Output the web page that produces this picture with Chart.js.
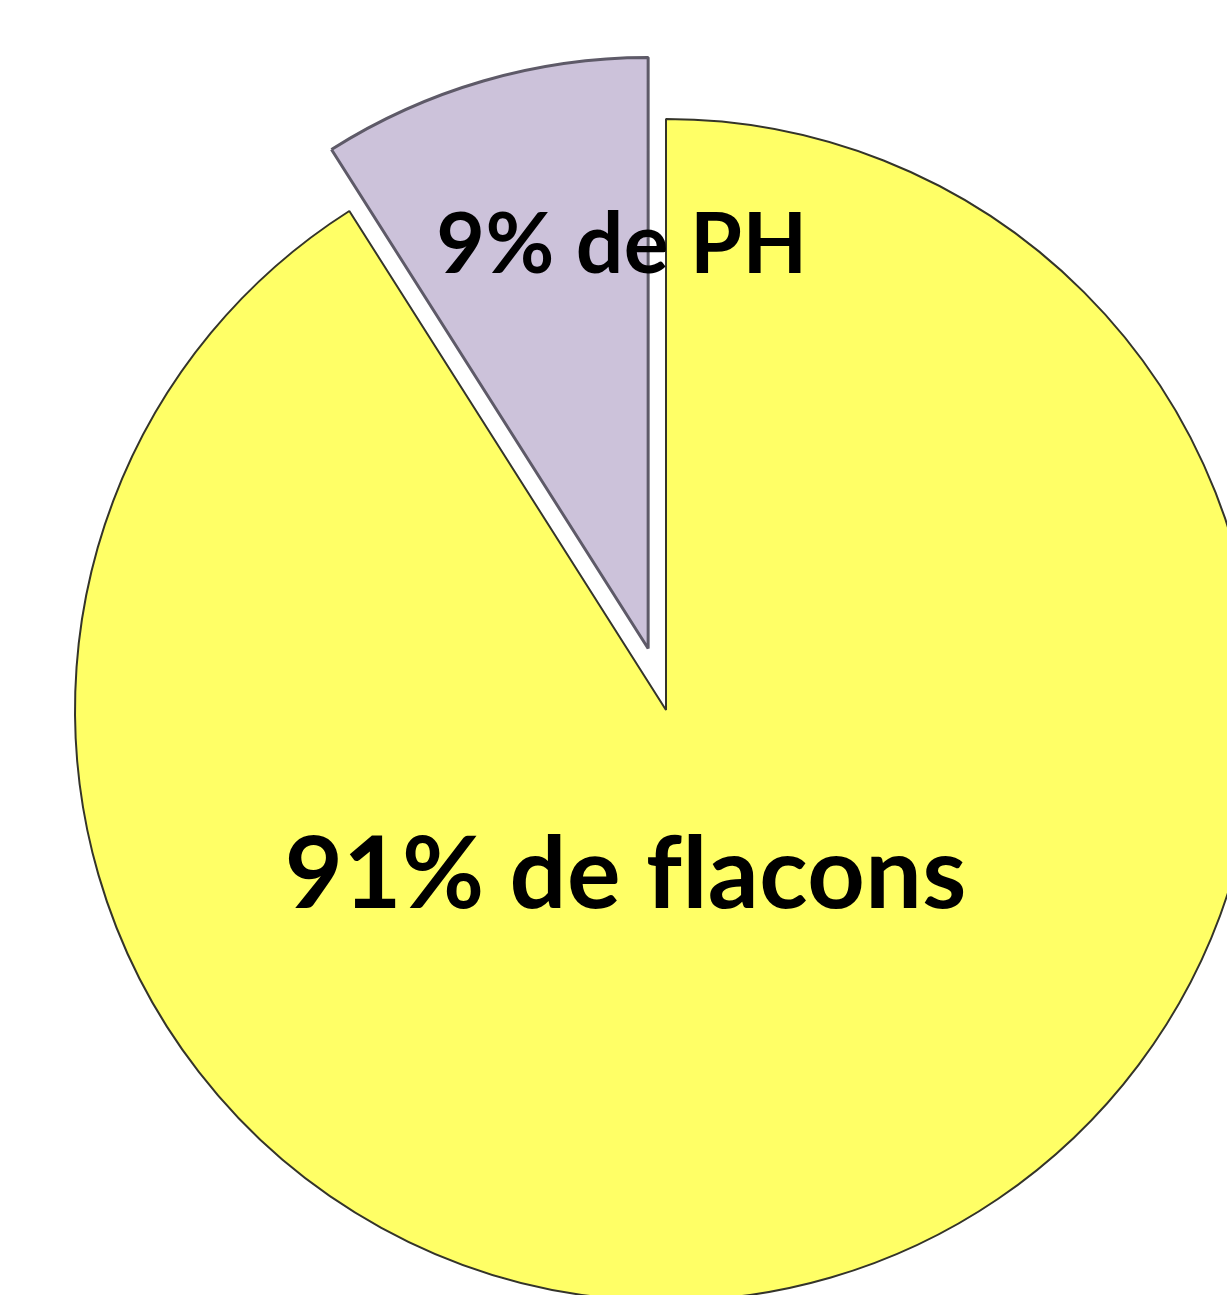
<!DOCTYPE html>
<html>
<head>
<meta charset="utf-8">
<script src="https://cdn.jsdelivr.net/npm/chart.js@4.4.1/dist/chart.umd.min.js"></script>
<style>
    html, body { margin: 0; padding: 0; background: #ffffff; overflow: hidden; }
    body { width: 1227px; height: 1295px; position: relative; }
    #pie-wrap { position: absolute; left: -84px; top: -40px; width: 1500px; height: 1500px; }
</style>
</head>
<body>
<div id="pie-wrap"><canvas id="pie-chart" width="1500" height="1500"></canvas></div>
<script>
// Data
const categories = ['flacons', 'PH'];
const shares = [91, 9];
const sliceColors = ['#FFFF66', '#CCC2DA'];
const borderColors = ['#34342a', '#5e5a68'];

// Slice PH sorti du camembert
const explodeIndex = 1;
const explodeDist = 64;

// Deplace la part detachee
const explodePlugin = {
    id: 'explode',
    afterDatasetsUpdate(chart) {
        const arc = chart.getDatasetMeta(0).data[explodeIndex];
        const mid = (arc.startAngle + arc.endAngle) / 2;
        arc.x += Math.cos(mid) * explodeDist;
        arc.y += Math.sin(mid) * explodeDist;
    }
};

// Etiquettes dans les parts
const labelPlugin = {
    id: 'sliceLabels',
    afterDatasetsDraw(chart) {
        const ctx = chart.ctx;
        const base = chart.getDatasetMeta(0).data[0];
        const r = base.outerRadius;
        // position relative au centre (en rayons), largeur cible
        const spots = [
            { dx: -0.068, dy: 0.335, width: 682 },
            { dx: -0.0745, dy: -0.739, width: 371 }
        ];
        ctx.save();
        ctx.fillStyle = '#000000';
        ctx.textAlign = 'center';
        ctx.textBaseline = 'alphabetic';
        // pas de ligature "fl"
        ctx.letterSpacing = '0.5px';
        categories.forEach((name, i) => {
            const text = shares[i] + '% de ' + name;
            ctx.font = 'bold 100px Lato';
            const w = ctx.measureText(text).width;
            const size = 100 * spots[i].width / w;
            ctx.font = 'bold ' + size.toFixed(1) + 'px Lato';
            ctx.fillText(text, base.x + spots[i].dx * r, base.y + spots[i].dy * r);
        });
        ctx.restore();
    }
};

document.addEventListener('DOMContentLoaded', function() {
    const ctx = document.getElementById('pie-chart').getContext('2d');
    new Chart(ctx, {
        type: 'pie',
        data: {
            labels: categories,
            datasets: [{
                data: shares,
                backgroundColor: sliceColors,
                borderColor: borderColors,
                borderWidth: [2, 3]
            }]
        },
        options: {
            responsive: false,
            animation: false,
            devicePixelRatio: 1,
            radius: 591,
            layout: { padding: 0 },
            plugins: {
                legend: { display: false },
                tooltip: { enabled: false }
            }
        },
        plugins: [explodePlugin, labelPlugin]
    });
});
</script>
</body>
</html>
